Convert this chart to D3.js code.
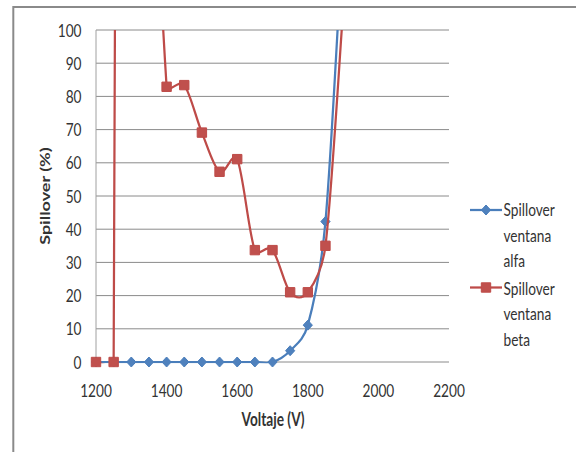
<!DOCTYPE html>
<html><head><meta charset="utf-8">
<script src="https://cdn.jsdelivr.net/npm/d3@7"></script>
<style>
body{margin:0;background:#fff}
svg{display:block}
text{font-family:Lato,"Open Sans",sans-serif;fill:#333}
</style>
</head><body>
<svg id="chart" width="579" height="455"></svg>
<script>
// ---- data ----
const voltages   = [1200,1250,1300,1350,1400,1450,1500,1550,1600,1650,1700,1750,1800,1850,1900];
const alfaValues = [0,0,0,0,0,0,0,0,0,0,0,3.4,11.1,42.3,130];
const betaValues = [0,0,1300,250,82.9,83.4,69.1,57.3,61.1,33.7,33.7,21.0,21.0,35.0,106];
const alfaLabel  = ["Spillover","ventana","alfa"];
const betaLabel  = ["Spillover","ventana","beta"];
const xTickValues = [1200,1400,1600,1800,2000,2200];
const yTickValues = [0,10,20,30,40,50,60,70,80,90,100];
const xTitle = "Voltaje (V)";
const yTitle = "Spillover (%)";

// ---- layout ----
const W = 579, H = 455;
const plot = {left:96, right:449, top:30, bottom:362};
const SX = 0.76;          // horizontal text compression seen in the reference
const blue = "#4A7EBB", blueFill = "#4F81BD";
const red = "#BE4B48", redFill = "#C0504D";
const grid = "#8a8a8a";

const svg = d3.select("#chart");
const x = d3.scaleLinear().domain([1200,2200]).range([plot.left, plot.right]);
const y = d3.scaleLinear().domain([0,100]).range([plot.bottom, plot.top]);

// outer frame (top + left visible)
svg.append("line").attr("x1",13.3).attr("x2",576).attr("y1",7).attr("y2",7)
  .attr("stroke",grid).attr("stroke-width",2);
svg.append("line").attr("x1",13.3).attr("x2",13.3).attr("y1",6).attr("y2",452)
  .attr("stroke",grid).attr("stroke-width",2);

// gridlines
svg.append("g").selectAll("line").data(yTickValues).join("line")
  .attr("x1",plot.left).attr("x2",plot.right)
  .attr("y1",d=>y(d)).attr("y2",d=>y(d))
  .attr("stroke",grid).attr("stroke-width",1);
// y axis line
svg.append("line").attr("x1",x(1200)).attr("x2",x(1200)).attr("y1",plot.top).attr("y2",plot.bottom)
  .attr("stroke","#a0a0a0").attr("stroke-width",1);

// tick labels
svg.append("g").selectAll("text").data(yTickValues).join("text")
  .attr("transform",d=>`translate(81.5,${y(d)+6.5}) scale(${SX},1)`)
  .attr("text-anchor","end").attr("font-size",18).text(d=>d);
svg.append("g").selectAll("text").data(xTickValues).join("text")
  .attr("transform",d=>`translate(${x(d)},397) scale(${SX},1)`)
  .attr("text-anchor","middle").attr("font-size",18).text(d=>d);

// axis titles
svg.append("text").attr("transform",`translate(273,426) scale(${SX},1)`)
  .attr("text-anchor","middle").attr("font-size",18).attr("font-weight","bold").text(xTitle);
svg.append("text").attr("transform",`translate(50,${(plot.top+plot.bottom)/2}) rotate(-90) scale(1,${SX})`)
  .attr("text-anchor","middle").attr("font-size",18).attr("font-weight","bold").text(yTitle);

// Excel-like smoothing curve
function ExcelSmooth(ctx){ this._context = ctx; }
ExcelSmooth.prototype = {
  areaStart(){}, areaEnd(){},
  lineStart(){ this._pts = []; },
  point(px,py){ this._pts.push([+px,+py]); },
  lineEnd(){
    const p = this._pts, n = p.length, c = this._context;
    if(!n) return;
    c.moveTo(p[0][0],p[0][1]);
    if(n===1) return;
    const f = 1/6;
    const ctrl = (i,dir)=>{
      const a = p[Math.max(i-1,0)], b = p[Math.min(i+1,n-1)];
      let vx = (b[0]-a[0])*f, vy = (b[1]-a[1])*f;
      const nb = p[i+dir];
      const seg = Math.hypot(nb[0]-p[i][0], nb[1]-p[i][1]);
      const len = Math.hypot(vx,vy), cap = seg/2;
      if(len>cap && len>0){ vx*=cap/len; vy*=cap/len; }
      return [p[i][0]+dir*vx, p[i][1]+dir*vy];
    };
    for(let i=0;i<n-1;i++){
      const c1 = ctrl(i,1), c2 = ctrl(i+1,-1);
      c.bezierCurveTo(c1[0],c1[1],c2[0],c2[1],p[i+1][0],p[i+1][1]);
    }
  }
};
const curveExcel = ctx => new ExcelSmooth(ctx);

const defs = svg.append("defs");
defs.append("clipPath").attr("id","clipLine").append("rect")
  .attr("x",plot.left-10).attr("y",plot.top).attr("width",plot.right-plot.left+20).attr("height",plot.bottom-plot.top+1.3);
defs.append("clipPath").attr("id","clipMark").append("rect")
  .attr("x",plot.left-10).attr("y",plot.top).attr("width",plot.right-plot.left+20).attr("height",plot.bottom-plot.top+15);

const line = d3.line().x((d,i)=>x(voltages[i])).y(d=>y(d)).curve(curveExcel);

const diamond = "M0,-5L4.6,0L0,5L-4.6,0Z";
const square = "M-4.7,-4.7H4.7V4.7H-4.7Z";

function drawSeries(values, color, fill, shape){
  svg.append("path").attr("clip-path","url(#clipLine)")
    .attr("d",line(values)).attr("fill","none").attr("stroke",color)
    .attr("stroke-width",2.25).attr("stroke-linejoin","round");
  svg.append("g").attr("clip-path","url(#clipMark)").selectAll("path").data(values).join("path")
    .attr("transform",(d,i)=>`translate(${x(voltages[i])},${y(d)})`)
    .attr("d",shape).attr("fill",fill).attr("stroke",color).attr("stroke-width",1);
}
drawSeries(alfaValues, blue, blueFill, diamond);
drawSeries(betaValues, red, redFill, square);

// legend
function legendEntry(lines, color, fill, shape, yLine, yBase){
  svg.append("line").attr("x1",470).attr("x2",502).attr("y1",yLine).attr("y2",yLine)
    .attr("stroke",color).attr("stroke-width",2.25);
  svg.append("path").attr("transform",`translate(486,${yLine})`).attr("d",shape)
    .attr("fill",fill).attr("stroke",color);
  svg.append("g").selectAll("text").data(lines).join("text")
    .attr("transform",(d,i)=>`translate(503.5,${yBase+i*25.5}) scale(${SX},1)`)
    .attr("font-size",18).text(d=>d);
}
legendEntry(alfaLabel, blue, blueFill, diamond, 210, 216);
legendEntry(betaLabel, red, redFill, square, 287.5, 294.5);
</script>
</body></html>
